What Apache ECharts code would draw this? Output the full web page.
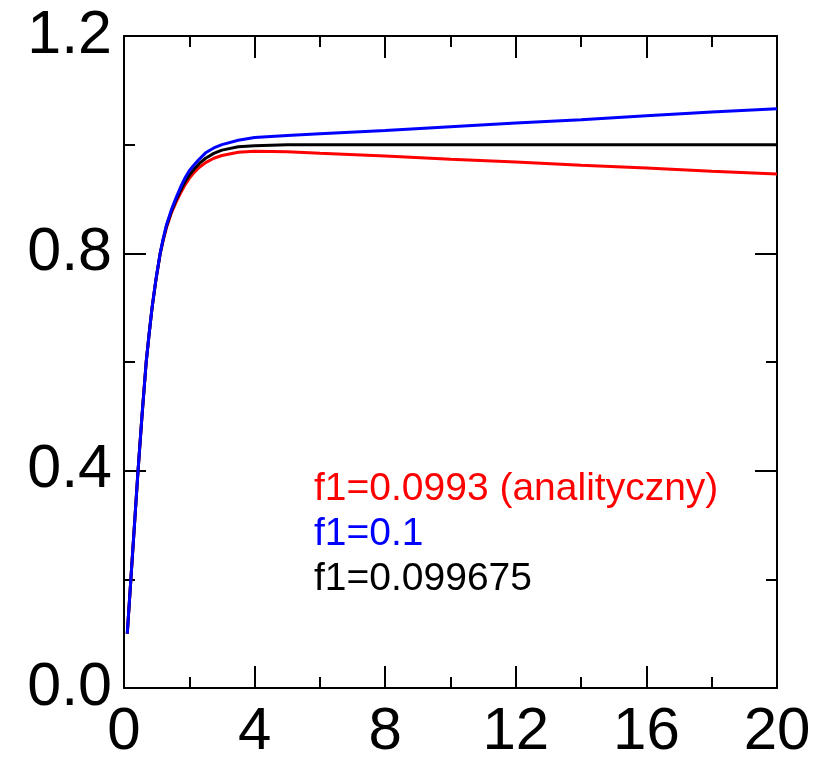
<!DOCTYPE html>
<html>
<head>
<meta charset="utf-8">
<script src="https://cdn.jsdelivr.net/npm/echarts@6/dist/echarts.min.js"></script>
<style>
  html, body { margin: 0; padding: 0; background: #fff; }
  #chart { width: 827px; height: 764px; }
</style>
</head>
<body>
<div id="chart"></div>
<script>
// wartosci
var xs = [0.1, 0.21, 0.32, 0.43, 0.55, 0.68, 0.77, 0.86, 0.98, 1.11, 1.2, 1.3, 1.45, 1.6, 1.75, 1.88, 2.0, 2.15, 2.3, 2.5, 2.75, 3.0, 3.5, 4, 5, 6, 8, 10, 12, 14, 16, 18, 20];

var redVals   = [0.1, 0.2, 0.3, 0.4, 0.5, 0.6, 0.652, 0.7, 0.752, 0.8, 0.824, 0.847, 0.874, 0.895, 0.913, 0.927, 0.938, 0.949, 0.958, 0.967, 0.975, 0.980, 0.986, 0.988, 0.987, 0.984, 0.979, 0.973, 0.968, 0.962, 0.957, 0.951, 0.946];
var blueVals  = [0.1, 0.2, 0.3, 0.4, 0.5, 0.6, 0.652, 0.7, 0.753, 0.801, 0.827, 0.852, 0.880, 0.903, 0.924, 0.940, 0.952, 0.963, 0.973, 0.985, 0.994, 1.000, 1.008, 1.013, 1.017, 1.020, 1.026, 1.033, 1.040, 1.046, 1.053, 1.060, 1.066];
var blackVals = [0.1, 0.2, 0.3, 0.4, 0.5, 0.6, 0.652, 0.7, 0.752, 0.8, 0.825, 0.850, 0.877, 0.899, 0.918, 0.933, 0.944, 0.955, 0.965, 0.975, 0.984, 0.990, 0.996, 0.998, 1.0, 1.0, 1.0, 1.0, 1.0, 1.0, 1.0, 1.0, 1.0];

var names = ['f1=0.0993 (analityczny)', 'f1=0.1', 'f1=0.099675'];
var colors = ['#ff0000', '#0000ff', '#000000'];

function pairs(vals) {
    return xs.map(function (x, i) { return [x, vals[i]]; });
}

var myChart = echarts.init(document.getElementById('chart'));

var font = 'Liberation Sans';

function xAx(pos, showLabel) {
    return {
        type: 'value',
        position: pos,
        min: 0,
        max: 20,
        interval: 4,
        axisLine: { show: true, onZero: false, lineStyle: { color: '#000', width: 2 } },
        axisTick: { show: true, inside: true, length: 22, lineStyle: { color: '#000', width: 2 } },
        minorTick: { show: true, splitNumber: 2, length: 11, lineStyle: { color: '#000', width: 2 } },
        splitLine: { show: false },
        axisLabel: { show: showLabel, fontSize: 60, color: '#000', fontFamily: font, margin: 14 }
    };
}

function yAx(pos, showLabel) {
    return {
        type: 'value',
        position: pos,
        min: 0,
        max: 1.2,
        interval: 0.4,
        axisLine: { show: true, onZero: false, lineStyle: { color: '#000', width: 2 } },
        axisTick: { show: true, inside: true, length: 22, lineStyle: { color: '#000', width: 2 } },
        minorTick: { show: true, splitNumber: 2, length: 11, lineStyle: { color: '#000', width: 2 } },
        splitLine: { show: false },
        axisLabel: {
            show: showLabel, fontSize: 61, color: '#000', fontFamily: font, margin: 12,
            formatter: function (v) { return v.toFixed(1); }
        }
    };
}

var option = {
    animation: false,
    grid: { left: 124, right: 50, top: 36, bottom: 76, containLabel: false },
    legend: {
        orient: 'vertical',
        left: 304,
        top: 465,
        icon: 'none',
        itemWidth: 0,
        itemGap: 6,
        selectedMode: false,
        textStyle: { fontSize: 39, fontFamily: font, lineHeight: 39 },
        data: [
            { name: names[0], textStyle: { color: colors[0] } },
            { name: names[1], textStyle: { color: colors[1] } },
            { name: names[2], textStyle: { color: colors[2] } }
        ]
    },
    xAxis: [xAx('bottom', true), xAx('top', false)],
    yAxis: [yAx('left', true), yAx('right', false)],
    series: [
        {
            name: names[0], type: 'line', showSymbol: false, smooth: false,
            color: colors[0], lineStyle: { width: 3 }, data: pairs(redVals)
        },
        {
            name: names[2], type: 'line', showSymbol: false, smooth: false,
            color: colors[2], lineStyle: { width: 3 }, data: pairs(blackVals)
        },
        {
            name: names[1], type: 'line', showSymbol: false, smooth: false,
            color: colors[1], lineStyle: { width: 3 }, data: pairs(blueVals)
        }
    ]
};

myChart.setOption(option);

window.addEventListener('resize', function () {
    myChart.resize();
});
</script>
</body>
</html>
